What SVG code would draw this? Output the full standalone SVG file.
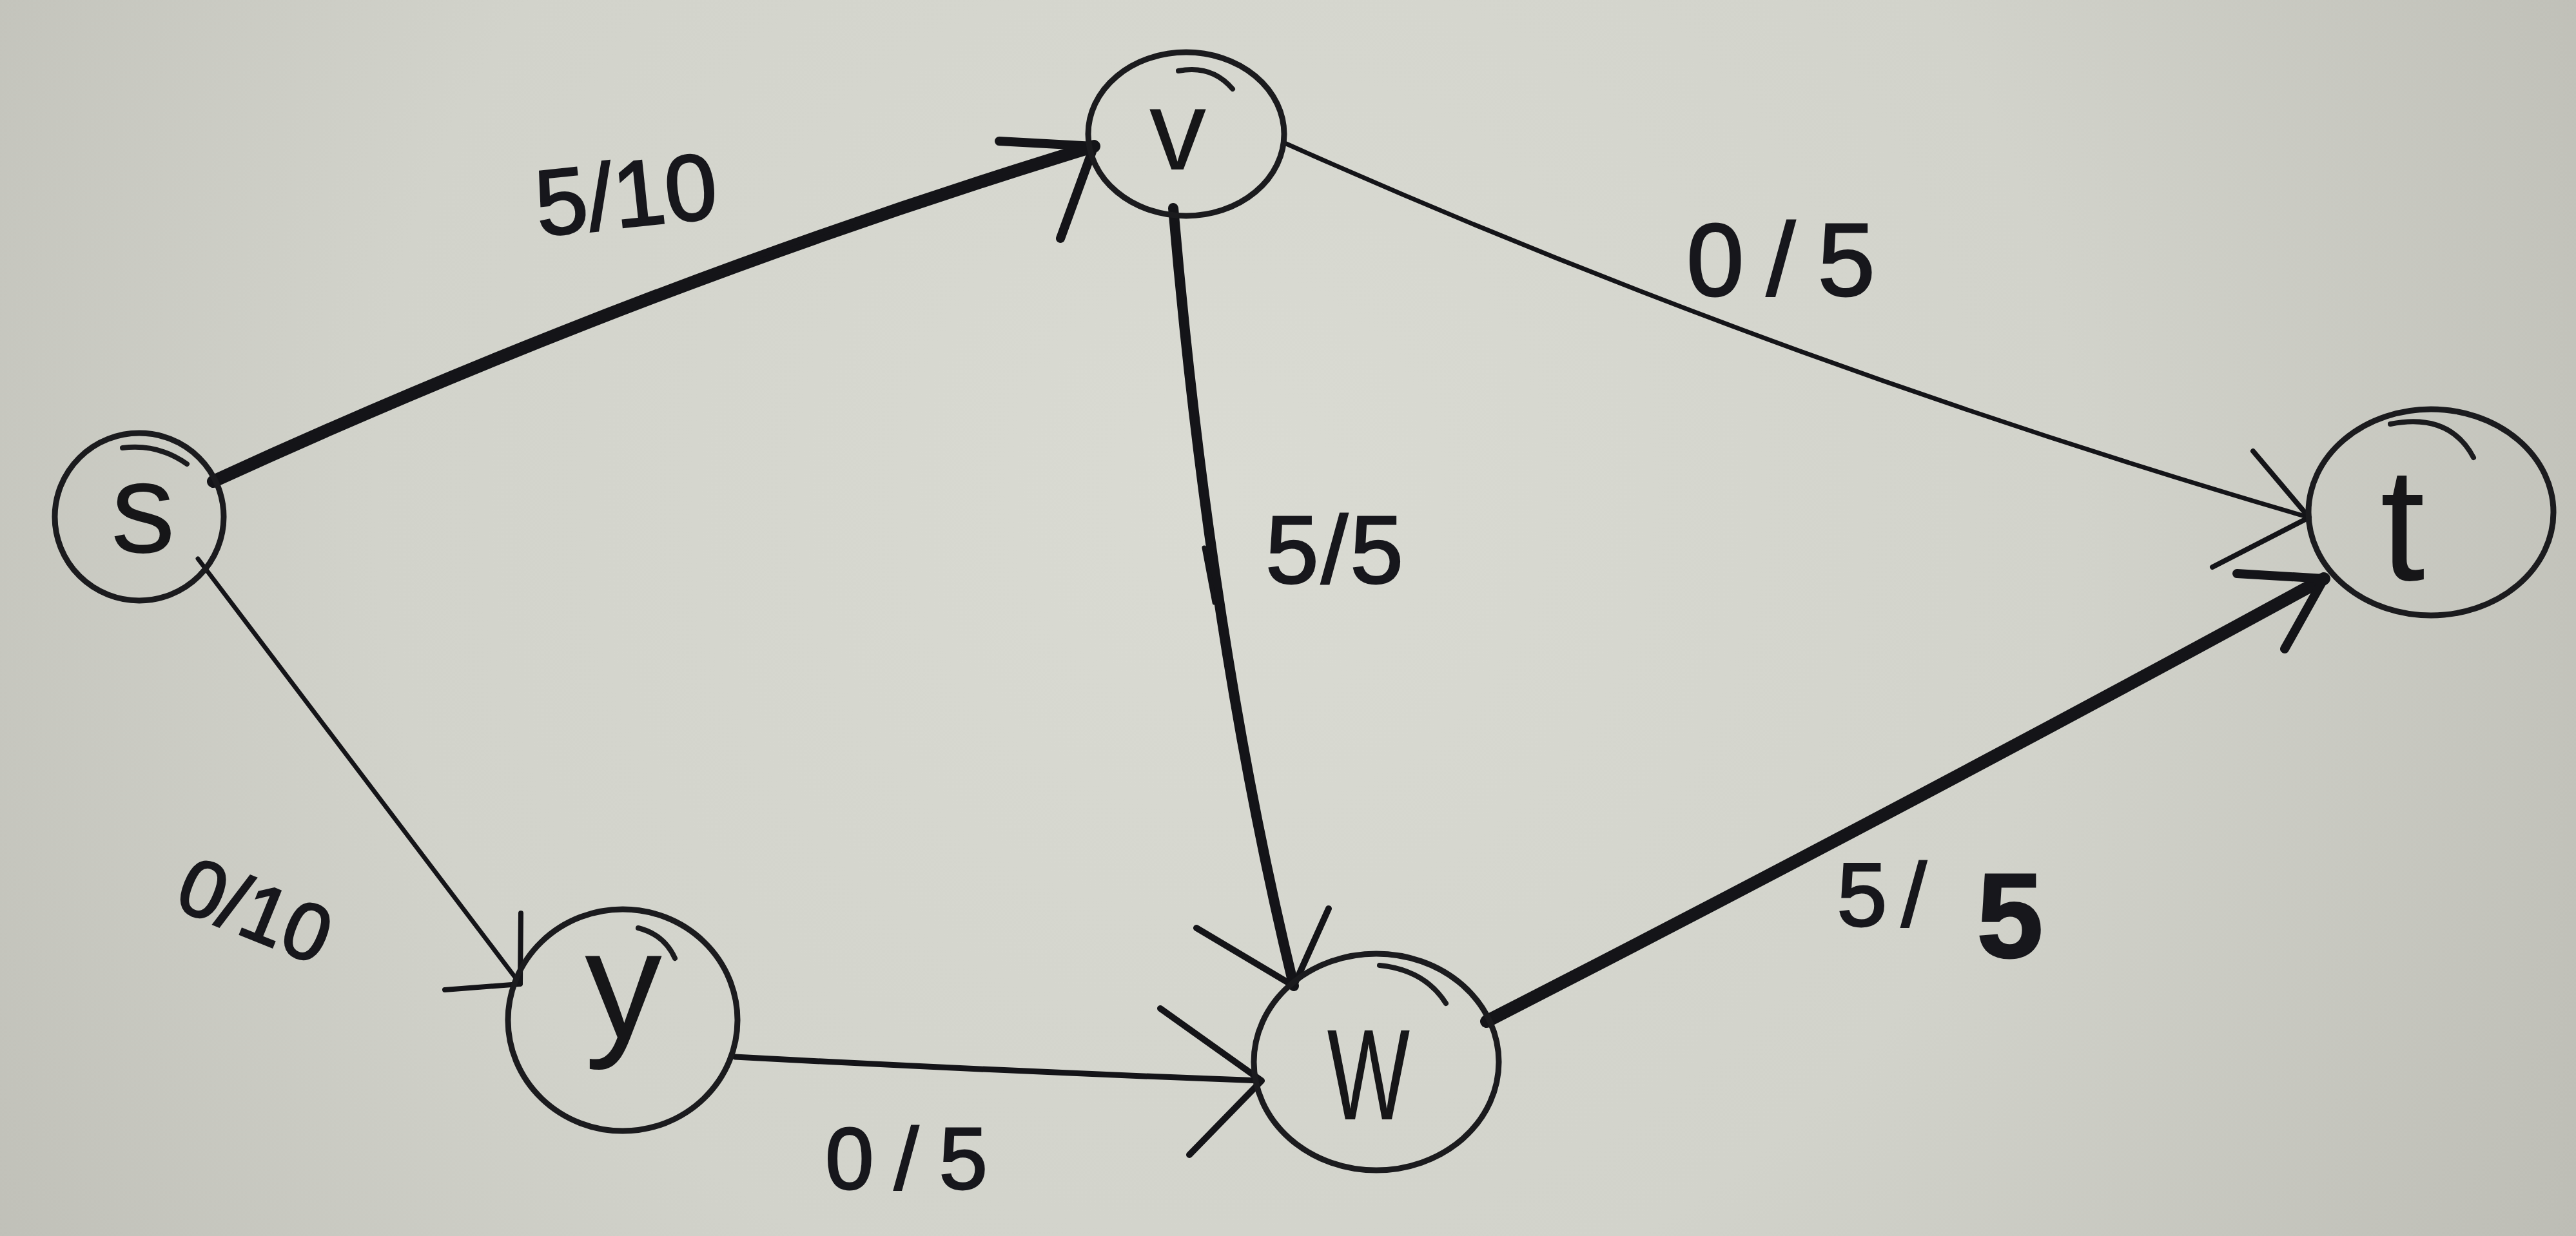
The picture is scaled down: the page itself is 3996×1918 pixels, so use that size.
<svg xmlns="http://www.w3.org/2000/svg" width="3996" height="1918" viewBox="0 0 3996 1918">
  <defs>
    <radialGradient id="paper" cx="1900" cy="760" r="2400" gradientUnits="userSpaceOnUse">
      <stop offset="0" stop-color="#dadbd3"/>
      <stop offset="0.55" stop-color="#d2d3cb"/>
      <stop offset="1" stop-color="#bdbdb5"/>
    </radialGradient>
    <style>
      .ring { fill: none; stroke: #1b1b1e; stroke-width: 9; stroke-linecap: round; }
      .tail { fill: none; stroke: #1b1b1e; stroke-width: 8; stroke-linecap: round; }
      .letter { font-family: "Liberation Sans", "DejaVu Sans", sans-serif; fill: #161618; text-anchor: middle; }
      .label { font-family: "Liberation Sans", "DejaVu Sans", sans-serif; fill: #17171c; stroke: #17171c; stroke-width: 3; text-anchor: middle; }
      .edge { fill: none; stroke: #141418; stroke-linecap: round; stroke-linejoin: round; }
      .thin { stroke-width: 7; }
      .mid { stroke-width: 9; }
      .heavy { stroke-width: 20; }
      .head { fill: none; stroke: #141418; stroke-linecap: round; stroke-linejoin: round; }
    </style>
  </defs>

  <!-- paper -->
  <rect x="0" y="0" width="3996" height="1918" fill="url(#paper)"/>

  <!-- connectors -->
  <g id="edges">
    <!-- s -> v (5/10) -->
    <g id="edge-s-v">
      <path class="edge heavy" d="M331,747 Q1000,440 1697,227"/>
      <path class="edge" stroke-width="8" d="M1180,405 L1320,352"/>
      <path class="head" stroke-width="14" d="M1550,219 L1697,227 L1645,370"/>
    </g>
    <!-- v -> t (0/5) -->
    <g id="edge-v-t">
      <path class="edge thin" d="M1993,222 Q2750,560 3582,803"/>
      <path class="head" stroke-width="8" d="M3495,700 L3582,803 L3432,880"/>
    </g>
    <!-- v -> w (5/5) -->
    <g id="edge-v-w">
      <path class="edge" stroke-width="16" d="M1820,323 Q1878,1000 2007,1530"/>
      <path class="edge" stroke-width="7" d="M1868,850 L1884,935"/>
      <path class="head" stroke-width="10" d="M1856,1440 L2007,1530 L2061,1410"/>
    </g>
    <!-- s -> y (0/10) -->
    <g id="edge-s-y">
      <path class="edge thin" d="M307,867 L807,1527"/>
      <path class="head" stroke-width="8" d="M808,1417 L807,1527 L690,1536"/>
    </g>
    <!-- y -> w (0/5) -->
    <g id="edge-y-w">
      <path class="edge mid" d="M1140,1640 Q1550,1662 1957,1677"/>
      <path class="head" stroke-width="10" d="M1800,1565 L1957,1677 L1845,1792"/>
    </g>
    <!-- w -> t (5/5) -->
    <g id="edge-w-t">
      <path class="edge heavy" d="M2306,1585 Q2960,1250 3605,898"/>
      <path class="head" stroke-width="14" d="M3470,890 L3605,898 L3544,1007"/>
    </g>
  </g>

  <!-- nodes -->
  <g id="node-s">
    <ellipse class="ring" cx="216" cy="802" rx="131" ry="130"/>
    <path class="tail" d="M190,695 Q245,688 290,720"/>
    <text class="letter" x="222" y="857" font-size="200">s</text>
  </g>
  <g id="node-v">
    <ellipse class="ring" cx="1840" cy="208" rx="152" ry="127"/>
    <path class="tail" d="M1828,110 Q1880,100 1912,138"/>
    <text class="letter" x="1827" y="263" font-size="177">v</text>
  </g>
  <g id="node-t">
    <ellipse class="ring" cx="3771" cy="795" rx="190" ry="160"/>
    <path class="tail" d="M3708,658 Q3800,640 3837,710"/>
    <text class="letter" x="3727" y="900" font-size="250">t</text>
  </g>
  <g id="node-y">
    <ellipse class="ring" cx="966" cy="1583" rx="178" ry="172"/>
    <path class="tail" d="M990,1440 Q1030,1450 1047,1487"/>
    <text class="letter" x="967" y="1610" font-size="240">y</text>
  </g>
  <g id="node-w">
    <ellipse class="ring" cx="2135" cy="1648" rx="190" ry="168"/>
    <path class="tail" d="M2140,1498 Q2210,1505 2243,1557"/>
    <text class="letter" transform="translate(2123,1737) scale(0.68,1)" x="0" y="0" font-size="200">W</text>
  </g>

  <!-- flow / capacity labels -->
  <g id="labels">
    <text class="label" transform="translate(971,300) rotate(-6)" x="0" y="52" font-size="145">5/10</text>
    <text class="label" x="2780" y="458" font-size="160" letter-spacing="35">0/5</text>
    <text class="label" x="2072" y="905" font-size="148" letter-spacing="4">5/5</text>
    <text class="label" transform="translate(396,1412) rotate(22)" x="0" y="44" font-size="125">0/10</text>
    <text class="label" x="1422" y="1845" font-size="135" letter-spacing="32">0/5</text>
    <text class="label" font-size="140"><tspan x="2930" y="1437" letter-spacing="22">5/</tspan><tspan x="3118" y="1485" font-size="185" font-weight="bold">5</tspan></text>
  </g>
</svg>
